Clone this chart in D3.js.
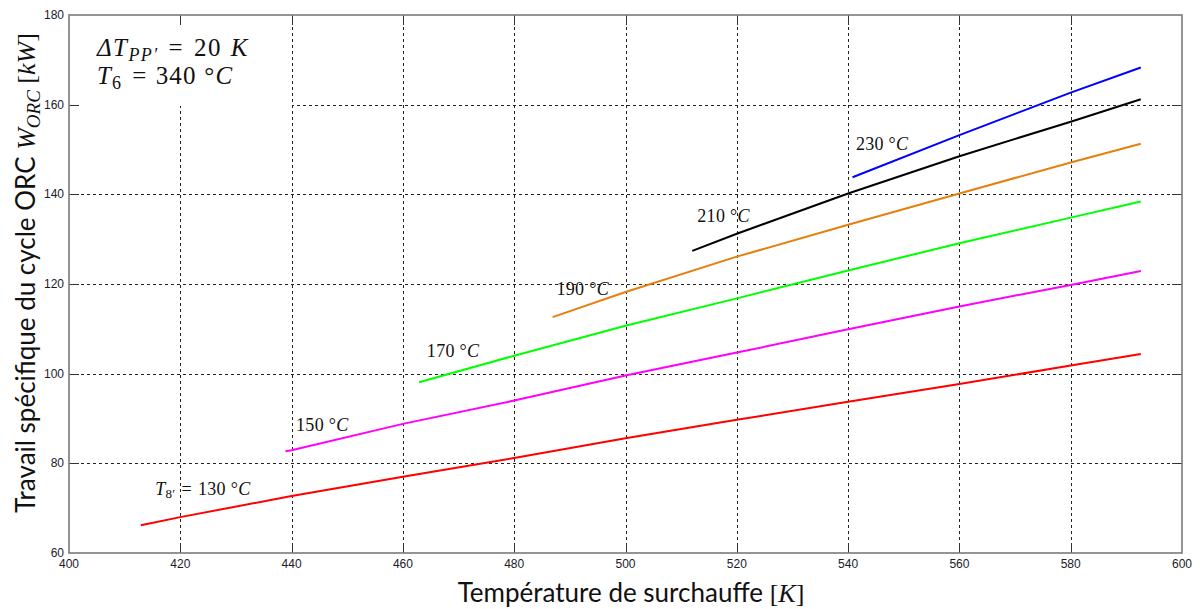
<!DOCTYPE html>
<html>
<head>
<meta charset="utf-8">
<script src="https://cdn.jsdelivr.net/npm/d3@7"></script>
<style>
  html, body { margin: 0; padding: 0; background: #fff; }
  svg { display: block; }
</style>
</head>
<body>
<svg id="chart" width="1200" height="609"></svg>
<script>
// Superheating temperature [K] vs ORC specific work [kW], one curve per T8' level
const xTicks = [400, 420, 440, 460, 480, 500, 520, 540, 560, 580, 600];
const yTicks = [60, 80, 100, 120, 140, 160, 180];

const seriesNames = ["130", "150", "170", "190", "210", "230"];
const seriesColors = ["#ff0000", "#ff00ff", "#00ff00", "#e67f0d", "#000000", "#0000ff"];

const temp130 = [412.9, 420, 440, 460, 480, 500, 520, 540, 560, 580, 592.6];
const work130 = [66.2, 68.0, 72.7, 77.0, 81.2, 85.6, 89.7, 93.75, 97.7, 101.8, 104.4];

const temp150 = [438.9, 440, 460, 480, 500, 520, 540, 560, 580, 592.6];
const work150 = [82.7, 82.9, 88.8, 94.0, 99.6, 104.7, 109.9, 115.0, 119.8, 122.9];

const temp170 = [462.9, 480, 500, 520, 540, 560, 580, 592.6];
const work170 = [98.1, 104.0, 110.7, 116.8, 123.0, 129.1, 134.8, 138.4];

const temp190 = [486.9, 500, 520, 540, 560, 580, 592.6];
const work190 = [112.6, 118.2, 126.1, 133.2, 140.2, 147.1, 151.3];

const temp210 = [512.0, 520, 540, 560, 580, 592.6];
const work210 = [127.4, 131.2, 140.2, 148.5, 156.2, 161.2];

const temp230 = [540.8, 560, 580, 592.6];
const work230 = [143.8, 153.2, 162.7, 168.3];

// label anchors in data units (K, kW)
const labelTemp = [415.5, 440.8, 464.3, 487.6, 512.9, 541.4];
const labelWork = [72.9, 87.3, 103.8, 117.5, 133.9, 149.8];

const temps = [temp130, temp150, temp170, temp190, temp210, temp230];
const works = [work130, work150, work170, work190, work210, work230];

const svg = d3.select("#chart");
const plotL = 69, plotR = 1182, plotT = 15, plotB = 553;

const x = d3.scaleLinear().domain([400, 600]).range([plotL, plotR]);
const y = d3.scaleLinear().domain([60, 180]).range([plotB, plotT]);

const mathFont = "'Liberation Serif', 'DejaVu Serif', serif";
const tickFont = "'Liberation Sans', Arial, sans-serif";
const titleFont = "Lato, 'Open Sans', sans-serif";

// grid
const grid = svg.append("g").attr("stroke", "#222").attr("stroke-width", 1)
  .attr("stroke-dasharray", "3,3").attr("fill", "none");
grid.selectAll(".vg").data(xTicks.slice(1, -1)).join("line")
  .attr("x1", d => Math.round(x(d)) + 0.5).attr("x2", d => Math.round(x(d)) + 0.5)
  .attr("y1", plotT).attr("y2", plotB);
grid.selectAll(".hg").data(yTicks.slice(1, -1)).join("line")
  .attr("y1", d => Math.round(y(d)) + 0.5).attr("y2", d => Math.round(y(d)) + 0.5)
  .attr("x1", plotL).attr("x2", plotR);

// white panel behind the parameter text
svg.append("rect").attr("x", plotL + 1).attr("y", plotT + 1)
  .attr("width", 222).attr("height", 90).attr("fill", "#fff");

// curves
const line = d3.line().x(d => x(d[0])).y(d => y(d[1]));
const curves = svg.append("g").attr("fill", "none").attr("stroke-width", 2)
  .attr("stroke-linejoin", "round");
seriesNames.forEach((name, i) => {
  const pts = temps[i].map((t, j) => [t, works[i][j]]);
  curves.append("path").datum(pts).attr("d", line).attr("stroke", seriesColors[i]);
});

// rich math-style text built from parts
function richText(g, parts, size, spacing) {
  const t = g.append("text").attr("font-family", mathFont).attr("font-size", size)
    .attr("fill", "#111").attr("letter-spacing", spacing || 0);
  parts.forEach(p => {
    const s = t.append("tspan").text(p.t);
    if (p.i) s.attr("font-style", "italic");
    if (p.sub) s.attr("baseline-shift", "-25%").attr("font-size", size * 0.72);
    if (p.dx) s.attr("dx", p.dx);
  });
  return t;
}

// curve labels
seriesNames.forEach((name, i) => {
  const g = svg.append("g").attr("transform", `translate(${x(labelTemp[i])},${y(labelWork[i])})`);
  const parts = i === 0
    ? [{t: "T", i: true}, {t: "8′", sub: true}, {t: "=", dx: 6}, {t: name + " °", dx: 6}, {t: "C", i: true}]
    : [{t: name + " °"}, {t: "C", i: true}];
  richText(g, parts, 18, 0.3);
});

// parameter text
richText(svg.append("g").attr("transform", "translate(97,56)"),
  [{t: "ΔT", i: true}, {t: "PP′", i: true, sub: true}, {t: "=", dx: 10}, {t: "20", dx: 10}, {t: "K", i: true, dx: 9}], 25, 1.4);
richText(svg.append("g").attr("transform", "translate(97,84)"),
  [{t: "T", i: true}, {t: "6", sub: true}, {t: "=", dx: 10}, {t: "340 °", dx: 8}, {t: "C", i: true}], 25, 1.2);

// axes frame and ticks
const ax = svg.append("g");
const tickLen = 10;
ax.selectAll(".xt").data(xTicks.slice(1, -1)).join("path")
  .attr("d", d => {
    const px = Math.round(x(d)) + 0.5;
    return `M${px},${plotB}V${plotB - tickLen}M${px},${plotT}V${plotT + tickLen}`;
  })
  .attr("stroke", "#333").attr("stroke-width", 1);
ax.selectAll(".yt").data(yTicks.slice(1, -1)).join("path")
  .attr("d", d => {
    const py = Math.round(y(d)) + 0.5;
    return `M${plotL},${py}H${plotL + tickLen}M${plotR},${py}H${plotR - tickLen}`;
  })
  .attr("stroke", "#333").attr("stroke-width", 1);
ax.append("rect").attr("x", plotL).attr("y", plotT).attr("width", plotR - plotL).attr("height", plotB - plotT)
  .attr("fill", "none").attr("stroke", "#7a7a7a").attr("stroke-width", 1.6);

// tick labels
svg.append("g").selectAll("text").data(xTicks).join("text")
  .attr("x", d => x(d)).attr("y", plotB + 15)
  .attr("text-anchor", "middle").attr("font-family", tickFont).attr("font-size", 12)
  .attr("fill", "#1a1a2a").text(d => d);
svg.append("g").selectAll("text").data(yTicks).join("text")
  .attr("x", plotL - 5).attr("y", d => y(d) + 4)
  .attr("text-anchor", "end").attr("font-family", tickFont).attr("font-size", 12)
  .attr("fill", "#1a1a2a").text(d => d);

// axis titles
const xt = svg.append("text").attr("x", 631).attr("y", 602).attr("text-anchor", "middle")
  .attr("font-family", titleFont).attr("font-size", 26).attr("fill", "#111");
xt.append("tspan").text("Température de surchauffe ");
xt.append("tspan").attr("font-family", mathFont).text("[");
xt.append("tspan").attr("font-family", mathFont).attr("font-style", "italic").text("K");
xt.append("tspan").attr("font-family", mathFont).text("]");

const yt = svg.append("text").attr("transform", "translate(35,273) rotate(-90)").attr("text-anchor", "middle")
  .attr("font-family", titleFont).attr("font-size", 26).attr("fill", "#111");
yt.append("tspan").text("Travail spécifique du cycle ORC ");
yt.append("tspan").attr("font-family", mathFont).attr("font-style", "italic").text("W");
yt.append("tspan").attr("font-family", mathFont).attr("font-style", "italic")
  .attr("baseline-shift", "-25%").attr("font-size", 19).text("ORC");
yt.append("tspan").attr("font-family", mathFont).text(" [");
yt.append("tspan").attr("font-family", mathFont).attr("font-style", "italic").text("kW");
yt.append("tspan").attr("font-family", mathFont).text("]");
</script>
</body>
</html>
